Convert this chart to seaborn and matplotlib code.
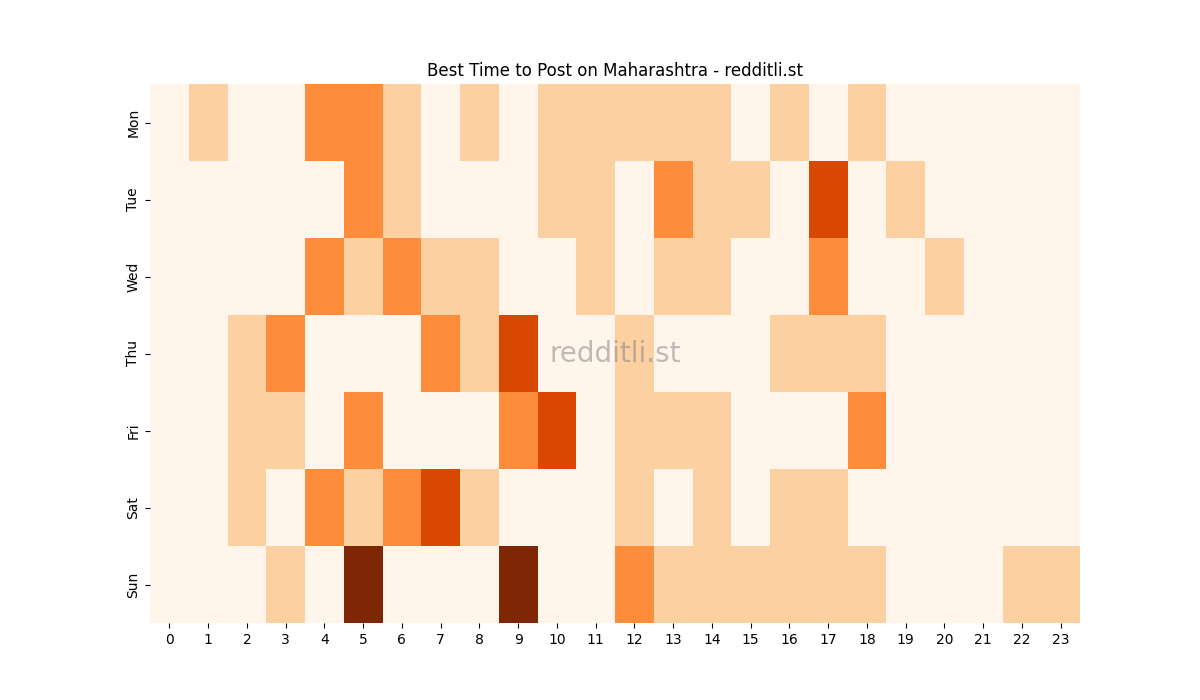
import matplotlib
matplotlib.use("Agg")
import matplotlib.pyplot as plt
import seaborn as sns
import pandas as pd

days = ["Mon", "Tue", "Wed", "Thu", "Fri", "Sat", "Sun"]
hours = list(range(24))
mon = [0,1,0,0,2,2,1,0,1,0,1,1,1,1,1,0,1,0,1,0,0,0,0,0]
tue = [0,0,0,0,0,2,1,0,0,0,1,1,0,2,1,1,0,3,0,1,0,0,0,0]
wed = [0,0,0,0,2,1,2,1,1,0,0,1,0,1,1,0,0,2,0,0,1,0,0,0]
thu = [0,0,1,2,0,0,0,2,1,3,0,0,1,0,0,0,1,1,1,0,0,0,0,0]
fri = [0,0,1,1,0,2,0,0,0,2,3,0,1,1,1,0,0,0,2,0,0,0,0,0]
sat = [0,0,1,0,2,1,2,3,1,0,0,0,1,0,1,0,1,1,0,0,0,0,0,0]
sun = [0,0,0,1,0,4,0,0,0,4,0,0,2,1,1,1,1,1,1,0,0,0,1,1]

df = pd.DataFrame([mon, tue, wed, thu, fri, sat, sun], index=days, columns=hours)

fig, ax = plt.subplots(figsize=(12, 7), dpi=100)
sns.heatmap(df, cmap="Oranges", vmin=0, vmax=4, cbar=False, ax=ax)
ax.set_title("Best Time to Post on Maharashtra - redditli.st")
ax.set_xlabel("")
ax.set_ylabel("")
ax.text(0.5, 0.5, "redditli.st", transform=ax.transAxes, ha="center", va="center",
        fontsize=20, color="gray", alpha=0.5)
fig.savefig("out.png")
